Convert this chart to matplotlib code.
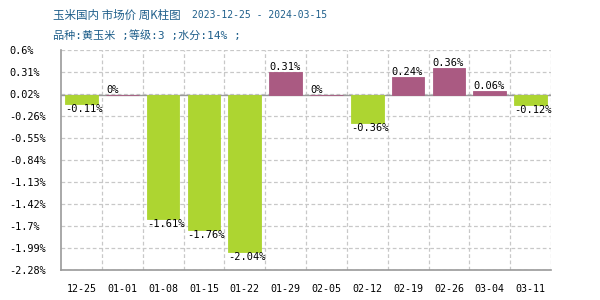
import numpy as np
import matplotlib
matplotlib.use("Agg")
import matplotlib.pyplot as plt

# weekly change data
weeks = ["12-25", "01-01", "01-08", "01-15", "01-22", "01-29",
         "02-05", "02-12", "02-19", "02-26", "03-04", "03-11"]
changes = [-0.11, 0, -1.61, -1.76, -2.04, 0.31, 0, -0.36, 0.24, 0.36, 0.06, -0.12]
change_labels = ["-0.11%", "0%", "-1.61%", "-1.76%", "-2.04%", "0.31%",
                 "0%", "-0.36%", "0.24%", "0.36%", "0.06%", "-0.12%"]
y_tick_labels = ["-2.28%", "-1.99%", "-1.7%", "-1.42%", "-1.13%", "-0.84%",
                 "-0.55%", "-0.26%", "0.02%", "0.31%", "0.6%"]
y_min, y_max = -2.28, 0.6

title_main = "玉米国内 市场价 周K柱图"
title_dates = "2023-12-25 - 2024-03-15"
subtitle = "品种:黄玉米 ;等级:3 ;水分:14% ;"

UP = "#aa5a82"
DOWN = "#add531"
GRID = "#c8c8c8"
AXIS = "#999999"
TITLE = "#1f5f8b"
MONO = ["DejaVu Sans Mono", "Noto Sans CJK SC"]
CJK = ["Noto Sans CJK SC", "DejaVu Sans"]

fig = plt.figure(figsize=(6, 3), dpi=100)
ax = fig.add_axes([0.1017, 0.1, 0.8167, 0.735])

x = np.arange(len(weeks))
colors = [UP if v >= 0 else DOWN for v in changes]
width = 0.8
ax.bar(x, changes, width=width, color=colors, edgecolor=colors,
       linewidth=0.6, zorder=3)

for xi, v, lab in zip(x, changes, change_labels):
    if v >= 0:
        ax.text(xi - width / 2, v, lab, ha="left", va="bottom",
                fontsize=7.5, family=MONO, zorder=4)
    else:
        ax.text(xi - width / 2, v, lab, ha="left", va="top",
                fontsize=7.5, family=MONO, zorder=4)

ax.set_xlim(-0.5, len(weeks) - 0.5)
ax.set_ylim(y_min, y_max)
ax.axhline(0, color=AXIS, linewidth=1, zorder=2)

yt = np.linspace(y_min, y_max, len(y_tick_labels))
ax.set_yticks(yt)
ax.set_yticklabels(y_tick_labels, family=MONO, fontsize=7.4)
for lab in ax.get_yticklabels():
    lab.set_horizontalalignment("left")
ax.set_xticks(x)
ax.set_xticklabels(weeks, family=MONO, fontsize=7.2)
ax.set_xticks(list(x + 0.5), minor=True)
ax.tick_params(axis="both", which="both", length=0)
ax.tick_params(axis="y", pad=37)
ax.tick_params(axis="x", pad=10)

ax.grid(axis="y", which="major", color=GRID, linestyle=(0, (3, 2)), linewidth=0.9, zorder=1)
ax.grid(axis="x", which="minor", color=GRID, linestyle=(0, (3, 2)), linewidth=0.9, zorder=1)

for side in ["top", "right"]:
    ax.spines[side].set_visible(False)
for side in ["left", "bottom"]:
    ax.spines[side].set_color(AXIS)
    ax.spines[side].set_linewidth(1.2)

fig.text(53 / 600, 1 - 15 / 300, title_main, family=CJK, fontsize=8.3,
         color=TITLE, va="center", ha="left")
fig.text(192 / 600, 1 - 15 / 300, title_dates, family=MONO, fontsize=7,
         color=TITLE, va="center", ha="left")
fig.text(53 / 600, 1 - 35 / 300, subtitle, family=MONO, fontsize=8,
         color=TITLE, va="center", ha="left")

fig.savefig("out.png", dpi=100)
